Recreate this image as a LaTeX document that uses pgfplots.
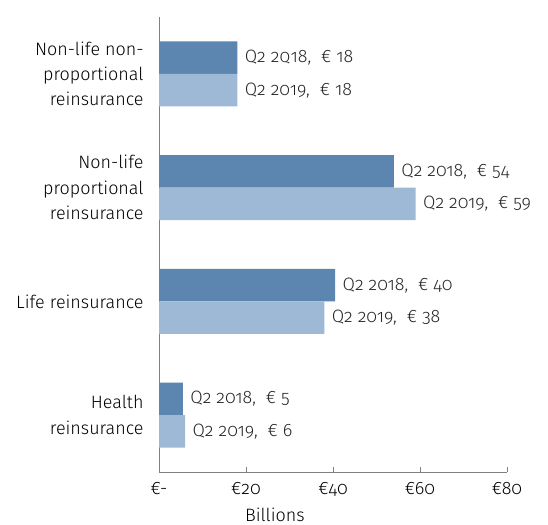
\documentclass[border=0pt]{standalone}
\usepackage{fontspec}
\setmainfont{Fira Sans Light}[RawFeature={+onum}]
\usepackage{pgfplots}
\pgfplotsset{compat=1.18}
\definecolor{dark}{RGB}{92,134,176}
\definecolor{light}{RGB}{157,185,213}
\definecolor{axisgray}{RGB}{128,128,128}
\newcommand{\sep}{,\hspace{0.55em}}

\begin{document}
\begin{tikzpicture}
\path[use as bounding box] (0,0) rectangle (548bp,525bp);
\begin{axis}[
    at={(159bp,53bp)}, anchor=south west,
    scale only axis,
    width=348bp, height=455bp,
    xbar, bar width=32.5bp,
    y dir=reverse,
    xmin=0, xmax=80,
    ymin=-0.5, ymax=3.5,
    axis x line*=bottom, axis y line*=left,
    axis line style={axisgray, line width=0.8bp},
    xtick={0,20,40,60,80},
    xticklabels={€-,€20,€40,€60,€80},
    ytick={0,1,2,3},
    yticklabels={{Non-life non-\\proportional\\reinsurance},{Non-life\\proportional\\reinsurance},{Life reinsurance},{Health\\reinsurance}},
    ytick style={draw=none},
    minor ytick={-0.5,0.5,1.5,2.5},
    minor tick length=5bp,
    minor tick style={axisgray, line width=0.8bp, xshift=-5bp},
    major tick length=5bp,
    tick align=inside,
    xtick style={axisgray, line width=0.8bp},
    yticklabel style={align=right, font=\fontsize{18}{25.5}\selectfont, xshift=-12bp},
    xticklabel style={font=\fontsize{18}{20}\selectfont, yshift=-7bp},
    xlabel={Billions},
    xlabel style={font=\fontsize{18}{20}\selectfont, at={(axis description cs:0.333,0)}, anchor=north, yshift=-32bp},
    point meta=explicit symbolic,
    nodes near coords,
    nodes near coords align={horizontal},
    every node near coord/.append style={font=\fontsize{18}{20}\selectfont, anchor=west, black!85, xshift=4bp},
]
\addplot[fill=dark, draw=none, bar shift=16.25bp] coordinates {
    (18,0) [Q2 2\textsc{q}18\sep€ 18]
    (54,1) [Q2 2018\sep€ 54]
    (40.5,2) [Q2 2018\sep€ 40]
    (5.5,3) [Q2 2018\sep€ 5]
};
\addplot[fill=light, draw=none, bar shift=-16.25bp] coordinates {
    (18,0) [Q2 2019\sep€ 18]
    (59,1) [Q2 2019\sep€ 59]
    (38,2) [Q2 2019\sep€ 38]
    (6,3) [Q2 2019\sep€ 6]
};
\end{axis}
\end{tikzpicture}
\end{document}
